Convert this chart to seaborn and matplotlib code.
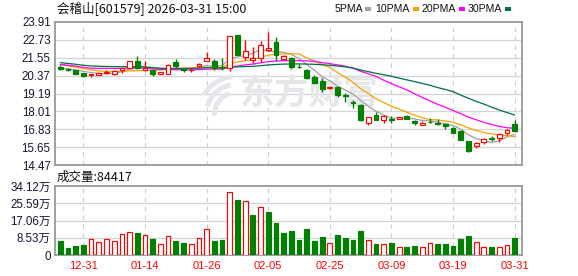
import numpy as np
import pandas as pd
import matplotlib
matplotlib.use("Agg")
import matplotlib.pyplot as plt
from matplotlib.patches import Rectangle, Wedge
from matplotlib.transforms import IdentityTransform
import seaborn as sns

# ---------------- data ----------------
dates = ['12-26', '12-29', '12-30', '12-31', '01-05', '01-06', '01-07', '01-08', '01-09', '01-12',
         '01-13', '01-14', '01-15', '01-16', '01-19', '01-20', '01-21', '01-22', '01-23', '01-26',
         '01-27', '01-28', '01-29', '01-30', '02-02', '02-03', '02-04', '02-05', '02-06', '02-09',
         '02-10', '02-11', '02-12', '02-13', '02-24', '02-25', '02-26', '02-27', '03-02', '03-03',
         '03-04', '03-05', '03-06', '03-09', '03-10', '03-11', '03-12', '03-13', '03-16', '03-17',
         '03-18', '03-19', '03-20', '03-23', '03-24', '03-25', '03-26', '03-27', '03-30', '03-31']
opens = [20.94, 20.82, 20.73, 20.55, 20.44, 20.40, 20.57, 20.51, 20.73, 20.90,
         21.33, 20.77, 20.77, 20.51, 20.51, 21.25, 20.82, 20.72, 20.99, 21.36,
         21.32, 20.92, 20.86, 23.06, 21.60, 21.38, 21.53, 22.03, 22.62, 21.45,
         21.56, 20.95, 20.77, 20.29, 20.01, 19.55, 19.60, 19.10, 18.60, 18.45,
         17.25, 17.80, 17.42, 17.49, 17.52, 17.73, 17.40, 17.12, 17.34, 17.25,
         17.19, 16.88, 16.73, 16.04, 15.73, 15.99, 16.23, 16.28, 16.56, 17.19]
highs = [21.05, 20.86, 20.75, 20.56, 20.51, 20.57, 20.77, 20.72, 20.90, 21.36,
         21.64, 21.33, 20.80, 20.64, 21.12, 21.45, 20.88, 20.90, 21.23, 21.92,
         21.49, 21.56, 23.01, 23.06, 22.73, 22.25, 22.64, 23.23, 22.90, 21.70,
         21.58, 21.12, 20.80, 20.40, 20.19, 19.69, 19.62, 19.20, 18.73, 18.47,
         17.66, 17.95, 17.75, 17.68, 17.64, 17.75, 17.42, 17.36, 17.58, 17.51,
         17.21, 16.99, 16.75, 16.06, 15.97, 16.28, 16.38, 16.56, 16.86, 17.42]
lows = [20.73, 20.70, 20.48, 20.25, 20.25, 20.38, 20.45, 20.40, 20.55, 20.88,
        20.84, 20.68, 20.34, 20.50, 20.49, 20.84, 20.58, 20.58, 20.97, 21.34,
        20.73, 20.73, 20.68, 21.70, 21.38, 21.23, 21.27, 21.97, 21.33, 21.40,
        20.84, 20.86, 20.12, 19.82, 19.31, 19.47, 18.99, 18.66, 18.23, 17.40,
        17.08, 17.42, 17.21, 17.27, 17.50, 17.49, 17.14, 17.10, 17.21, 17.12,
        16.82, 16.56, 16.10, 15.34, 15.58, 15.88, 16.06, 16.02, 16.45, 16.64]
closes = [20.81, 20.75, 20.51, 20.34, 20.46, 20.55, 20.59, 20.66, 20.88, 21.33,
          20.86, 20.88, 20.51, 20.62, 21.10, 20.99, 20.72, 20.76, 21.12, 21.53,
          20.88, 20.86, 23.01, 21.75, 21.97, 21.56, 22.36, 22.18, 21.75, 21.66,
          20.94, 20.92, 20.22, 19.90, 19.51, 19.59, 19.10, 19.00, 18.56, 17.42,
          17.64, 17.47, 17.73, 17.46, 17.62, 17.51, 17.23, 17.25, 17.30, 17.16,
          17.03, 16.60, 16.12, 15.38, 15.95, 16.21, 16.20, 16.54, 16.77, 16.74]
prior_closes = [22.3, 22.1, 22.3, 21.9, 21.1, 21.0, 20.9, 21.2, 21.0, 20.8,
                21.8, 21.7, 21.9, 21.6, 20.8, 20.6, 20.7, 20.9, 20.6, 20.6,
                21.5, 21.4, 21.3, 21.3, 21.25, 20.9, 20.8, 20.85, 20.84]
volume_wan = [7.05, 3.6, 4.6, 5.1, 7.9, 6.6, 7.9, 7.0, 10.3, 11.3,
              11.0, 9.8, 8.0, 5.4, 9.3, 6.7, 6.1, 5.4, 8.4, 12.8,
              7.0, 7.5, 31.0, 27.2, 26.6, 19.8, 23.6, 21.3, 15.9, 10.7,
              12.1, 7.2, 12.7, 6.9, 8.8, 5.9, 9.8, 8.3, 7.3, 11.7,
              7.3, 5.4, 5.4, 5.9, 3.8, 3.9, 4.4, 4.2, 5.7, 5.4,
              5.4, 4.4, 7.8, 9.3, 6.4, 3.8, 3.9, 3.8, 4.9, 8.4417]
price_ticks = [14.47, 15.65, 16.83, 18.01, 19.19, 20.37, 21.55, 22.73, 23.91]
vol_ticks_wan = [0, 8.53, 17.06, 25.59, 34.12]
vol_tick_labels = ['0', '8.53万', '17.06万', '25.59万', '34.12万']
date_ticks = ['12-31', '01-14', '01-26', '02-05', '02-25', '03-09', '03-19', '03-31']
ma_periods = [5, 10, 20, 30]
ma_names = ['5PMA', '10PMA', '20PMA', '30PMA']
title = '会稽山[601579] 2026-03-31 15:00'
vol_title = '成交量:84417'

# ---------------- styling ----------------
sns.set_theme(style="white")
plt.rcParams['font.family'] = ['Noto Sans CJK SC', 'DejaVu Sans']
NUMFONT = ['Liberation Sans', 'Noto Sans CJK SC']
RED = '#ff0000'
GREEN = '#008000'
MA_COLORS = ['#a0a0a0', '#f5a300', '#ff00ff', '#00703c']
BORDER = '#999999'
GRID = '#d4d4d4'
WM = '#e6e6ea'

W, H = 578, 276
fig = plt.figure(figsize=(W / 100, H / 100), dpi=100)
L, R = 54.5, 522
ax = fig.add_axes([L / W, 1 - 165 / H, (R - L) / W, 143 / H])
axv = fig.add_axes([L / W, 1 - 255 / H, (R - L) / W, 69 / H])

n = len(dates)
x = np.arange(n)
o = np.array(opens); h = np.array(highs); lo = np.array(lows); c = np.array(closes)
vol = np.array(volume_wan) * 1e4

up = c > o
body_bot = np.minimum(o, c)
body_h = np.maximum(np.abs(c - o), 0.012)
cols = np.where(up, RED, GREEN)
faces = np.where(up, 'white', GREEN)

# watermark (text + simple fan logo)
ax.text(0.545, 0.50, '东方财富', transform=ax.transAxes, fontsize=25, fontweight='bold',
        color=WM, ha='center', va='center', zorder=1)
pix = IdentityTransform()
for r0, a1, a2 in [(40, 95, 150), (32, 100, 165), (24, 108, 185)]:
    ax.add_artist(Wedge((236, H - 114), r0, a1, a2, width=5, transform=pix,
                        facecolor=WM, edgecolor='none', zorder=1))

# moving averages
full = pd.Series(prior_closes + closes)
for p, col in zip(ma_periods, MA_COLORS):
    ma = full.rolling(p).mean().to_numpy()[-n:]
    sns.lineplot(x=x, y=ma, ax=ax, color=col, linewidth=0.9, legend=False, zorder=2)

# candles
ax.vlines(x, lo, h, colors=cols, linewidth=1.0, zorder=3)
ax.bar(x, body_h, bottom=body_bot, width=0.62, color=faces, edgecolor=cols,
       linewidth=0.85, zorder=4)

# volume bars: colour by close vs previous close
prev = np.concatenate([[prior_closes[-1]], c[:-1]])
vup = c >= prev
vcols = np.where(vup, RED, GREEN)
vfaces = np.where(vup, 'white', GREEN)
axv.bar(x, vol, width=0.62, color=vfaces, edgecolor=vcols, linewidth=0.85, zorder=3)

xlim = (-0.75, n - 0.05)
tick_pos = [dates.index(d) for d in date_ticks]
for a in (ax, axv):
    a.set_xlim(*xlim)
    for s in a.spines.values():
        s.set_color(BORDER)
        s.set_linewidth(1.3)
    for tp in tick_pos:
        a.axvline(tp, color='#cccccc', linewidth=0.8, linestyle=(0, (4, 4)), zorder=0)
    a.set_xlabel('')
    a.set_ylabel('')

ax.set_ylim(price_ticks[0], price_ticks[-1])
ax.set_yticks(price_ticks)
ax.set_yticklabels([f'{t:.2f}' for t in price_ticks], family=NUMFONT, fontsize=8.3, color='#151530')
for t in price_ticks[1:-1]:
    ax.axhline(t, color=GRID, linewidth=0.9, zorder=0)
ax.set_xticks(tick_pos)
ax.tick_params(axis='x', length=0, labelbottom=False)
ax.tick_params(axis='y', length=2, width=0.8, color=BORDER, pad=0.8)

vmax = vol_ticks_wan[-1] * 1e4
axv.set_ylim(0, vmax)
axv.set_yticks([t * 1e4 for t in vol_ticks_wan])
axv.set_yticklabels(vol_tick_labels, family=NUMFONT, fontsize=8.3, color='#151530')
for t in vol_ticks_wan[1:-1]:
    axv.axhline(t * 1e4, color=GRID, linewidth=0.9, zorder=0)
axv.set_xticks(tick_pos)
axv.set_xticklabels(date_ticks, family=NUMFONT, fontsize=8, color=RED)
axv.tick_params(axis='x', length=0, pad=4)
axv.tick_params(axis='y', length=2, width=0.8, color=BORDER, pad=0.8)

# texts
fig.text(57 / W, 1 - 8.5 / H, title, fontsize=9, color='#111111', ha='left', va='center')
fig.text(57 / W, 1 - 177 / H, vol_title, fontsize=9, color='#111111', ha='left', va='center')

leg_right = [363, 410, 456, 502]
mark_x = [365, 413, 459, 505]
for name, lx, mx, col in zip(ma_names, leg_right, mark_x, MA_COLORS):
    fig.text(lx / W, 1 - 9 / H, name, fontsize=7.6, color='#111111', ha='right', va='center',
             family=NUMFONT)
    fig.patches.append(Rectangle((mx / W, 1 - 11 / H), 6 / W, 4 / H, transform=fig.transFigure,
                                 facecolor=col, edgecolor='none'))

fig.savefig('out.png', dpi=100)
